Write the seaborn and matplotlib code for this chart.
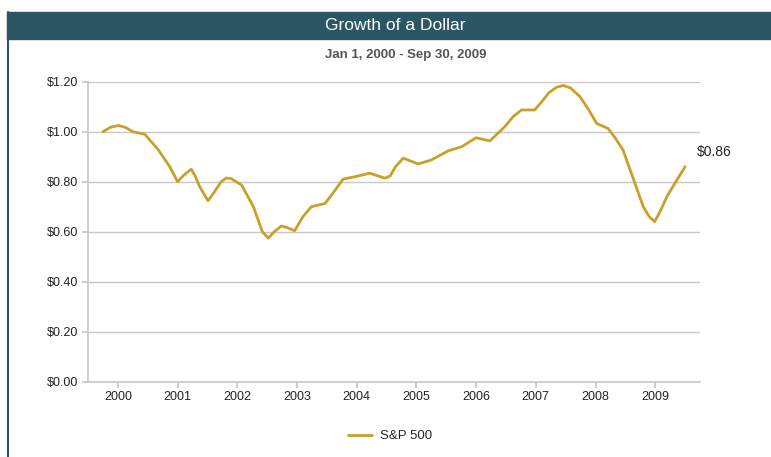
import pandas as pd
import matplotlib.pyplot as plt
import seaborn as sns
from matplotlib.patches import Rectangle
from matplotlib.lines import Line2D

# values (x in years, tick "2000" = 2000.0)
years = [1999.75, 1999.88, 2000.01, 2000.13, 2000.25, 2000.45, 2000.67, 2000.87,
         2001.00, 2001.10, 2001.23, 2001.30, 2001.37, 2001.51, 2001.62, 2001.73,
         2001.82, 2001.90, 2002.07, 2002.18, 2002.27, 2002.42, 2002.52, 2002.62,
         2002.74, 2002.85, 2002.96, 2003.10, 2003.24, 2003.47, 2003.62, 2003.77,
         2003.97, 2004.22, 2004.47, 2004.56, 2004.65, 2004.78, 2005.03, 2005.25,
         2005.53, 2005.76, 2006.00, 2006.23, 2006.48, 2006.62, 2006.76, 2006.98,
         2007.10, 2007.22, 2007.35, 2007.46, 2007.58, 2007.74, 2007.88, 2008.02,
         2008.21, 2008.33, 2008.46, 2008.66, 2008.80, 2008.90, 2008.99, 2009.08,
         2009.21, 2009.50]
growth = [1.00, 1.018, 1.025, 1.017, 1.00, 0.99, 0.93, 0.86,
          0.80, 0.825, 0.85, 0.82, 0.78, 0.724, 0.76, 0.80,
          0.815, 0.812, 0.787, 0.74, 0.70, 0.60, 0.574, 0.60,
          0.623, 0.615, 0.604, 0.66, 0.70, 0.713, 0.76, 0.81,
          0.82, 0.834, 0.814, 0.823, 0.86, 0.894, 0.871, 0.887,
          0.923, 0.94, 0.976, 0.963, 1.02, 1.06, 1.087, 1.087,
          1.12, 1.156, 1.178, 1.185, 1.175, 1.14, 1.09, 1.033,
          1.013, 0.975, 0.927, 0.794, 0.70, 0.66, 0.64, 0.68,
          0.747, 0.86]
tick_years = list(range(2000, 2010))
y_ticks = [0.0, 0.2, 0.4, 0.6, 0.8, 1.0, 1.2]
series_name = "S&P 500"
end_label = "$0.86"

df = pd.DataFrame({"Year": years, "Growth": growth, "Series": series_name})

sns.set_theme(style="white")
plt.rcParams['font.family'] = ['Liberation Sans', 'DejaVu Sans']

W, H = 771, 457
fig = plt.figure(figsize=(W / 100, H / 100), dpi=100)

# header bar and left border
fig.patches.append(Rectangle((7 / W, 1 - 39 / H), 1, 27 / H, transform=fig.transFigure,
                             color="#2c5663", zorder=0))
fig.add_artist(Line2D([8 / W, 8 / W], [0, 1 - 12 / H], transform=fig.transFigure,
                      color="#2c5663", lw=1.5))
fig.text(395 / W, 1 - 25 / H, "Growth of a Dollar", color="white", fontsize=12.5,
         ha="center", va="center", family=['Liberation Sans Narrow', 'Liberation Sans'])
fig.text(406 / W, 1 - 55 / H, "Jan 1, 2000 - Sep 30, 2009", color="#555555", fontsize=9.5,
         fontweight="bold", ha="center", va="center")

ax = fig.add_axes([88 / W, 1 - 381.7 / H, 612 / W, 300 / H])
sns.lineplot(data=df, x="Year", y="Growth", hue="Series", palette=["#c9a02a"],
             linewidth=2.0, ax=ax, legend=False)
ax.lines[0].set_solid_joinstyle("round")

ax.set_xlim(1999.5, 2009.75)
ax.set_ylim(0, 1.2)
ax.set_xticks(tick_years)
ax.set_xticklabels([str(y) for y in tick_years])
ax.set_yticks(y_ticks)
ax.set_yticklabels([f"${v:.2f}" for v in y_ticks])
ax.set_xlabel("")
ax.set_ylabel("")
ax.grid(axis="y", color="#c8c8c8", lw=1)
for side in ["top", "right"]:
    ax.spines[side].set_visible(False)
for side in ["left", "bottom"]:
    ax.spines[side].set_color("#c8c8c8")
ax.tick_params(axis="both", length=4, color="#c8c8c8", labelsize=9,
               labelcolor="#222222", bottom=True, left=True, pad=3)

ax.text(years[-1] + 0.2, growth[-1] + 0.058, end_label, fontsize=10, color="#222222",
        ha="left", va="center")

handle = Line2D([], [], color="#c9a02a", lw=2.0)
fig.legend([handle], [series_name], loc="center", bbox_to_anchor=(390 / W, 1 - 436 / H),
           frameon=False, fontsize=9.5, handlelength=1.8, handletextpad=0.6)

fig.savefig("out.png", dpi=100, facecolor="white")
